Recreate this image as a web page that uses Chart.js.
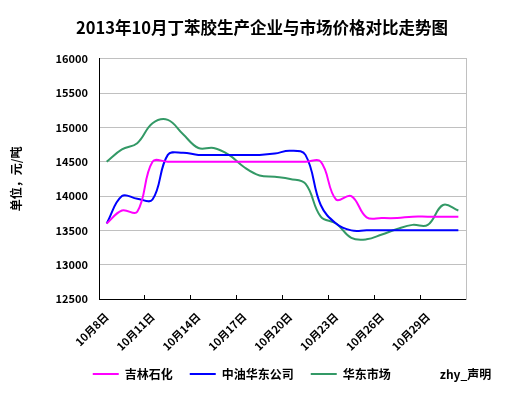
<!DOCTYPE html>
<html>
<head>
<meta charset="utf-8">
<script src="https://cdn.jsdelivr.net/npm/chart.js@4"></script>
<style>
  html, body { margin: 0; padding: 0; background: #fff; }
</style>
</head>
<body>
<canvas id="priceChart" width="524" height="395"></canvas>
<script>
// one point per day, 10月8日 .. 10月31日
const days = ['10月8日', '10月9日', '10月10日', '10月11日', '10月12日', '10月13日',
    '10月14日', '10月15日', '10月16日', '10月17日', '10月18日', '10月19日',
    '10月20日', '10月21日', '10月22日', '10月23日', '10月24日', '10月25日',
    '10月26日', '10月27日', '10月28日', '10月29日', '10月30日', '10月31日'];

const jilin = [13600, 13790, 13770, 14500, 14500, 14500, 14500, 14500, 14500, 14500, 14500, 14500,
    14500, 14500, 14500, 13950, 14000, 13690, 13680, 13680, 13700, 13700, 13700, 13700];

const huadongCo = [13600, 14000, 13960, 13950, 14600, 14630, 14600, 14600, 14600, 14600, 14600, 14620,
    14660, 14600, 13870, 13600, 13500, 13500, 13500, 13500, 13500, 13500, 13500, 13500];

const market = [14500, 14680, 14770, 15060, 15110, 14900, 14700, 14700, 14600, 14420, 14300, 14280,
    14250, 14180, 13700, 13600, 13390, 13370, 13440, 13520, 13580, 13580, 13870, 13790];

const seriesNames = ['吉林石化', '中油华东公司', '华东市场', 'zhy_声明'];
const seriesColors = ['#ff00ff', '#0000ff', '#339966', 'rgba(0,0,0,0)'];

const yTicks = [12500, 13000, 13500, 14000, 14500, 15000, 15500, 16000];

const fontFamily = "SimSun, 'Noto Sans CJK SC', sans-serif";

// the legend in the picture sits right of centre
const legendShift = {
    id: 'legendShift',
    afterLayout(chart) {
        chart.legend.left += 30;
        chart.legend.right += 30;
    }
};

function makeSet(i, values) {
    return {
        label: seriesNames[i],
        data: values,
        borderColor: seriesColors[i],
        backgroundColor: seriesColors[i],
        borderWidth: 2,
        pointRadius: 0,
        tension: 0.4,
        fill: false
    };
}

const ctx = document.getElementById('priceChart').getContext('2d');
const myChart = new Chart(ctx, {
    type: 'line',
    data: {
        labels: days,
        datasets: [
            makeSet(0, jilin),
            makeSet(1, huadongCo),
            makeSet(2, market),
            makeSet(3, days.map(() => null))
        ]
    },
    options: {
        responsive: false,
        animation: false,
        layout: { padding: { left: 0, right: 0, top: 0, bottom: 5 } },
        plugins: {
            title: {
                display: true,
                text: '2013年10月丁苯胶生产企业与市场价格对比走势图',
                color: '#000',
                font: { family: fontFamily, size: 16.5, weight: 'bold' },
                padding: { top: 18, bottom: 21 }
            },
            legend: {
                position: 'bottom',
                labels: {
                    color: '#000',
                    font: { family: fontFamily, size: 12, weight: 'bold' },
                    usePointStyle: true,
                    pointStyle: 'line',
                    pointStyleWidth: 26,
                    padding: 17
                }
            },
            tooltip: { enabled: false }
        },
        scales: {
            x: {
                offset: true,
                border: { display: true, color: '#000', width: 1 },
                grid: {
                    offset: true,
                    drawOnChartArea: false,
                    tickLength: -4,
                    color: (c) => (c.index % 3 === 0 ? '#000' : 'rgba(0,0,0,0)')
                },
                ticks: {
                    autoSkip: false,
                    minRotation: 45,
                    maxRotation: 45,
                    padding: 15,
                    color: '#000',
                    font: { family: fontFamily, size: 11, weight: 'bold' },
                    callback: (v, i) => (i % 3 === 0 ? days[i] : '')
                },
                afterFit: (scale) => { scale.height = 52; }
            },
            y: {
                min: yTicks[0],
                max: yTicks[yTicks.length - 1],
                border: { display: true, color: '#000', width: 1 },
                grid: { color: '#c0c0c0', drawTicks: false },
                afterBuildTicks: (scale) => { scale.ticks = yTicks.map(v => ({ value: v })); },
                ticks: {
                    color: '#000',
                    padding: 11,
                    font: { family: fontFamily, size: 11, weight: 'bold' },
                    callback: (v) => String(v)
                },
                title: {
                    display: true,
                    text: '单位，元/吨',
                    color: '#000',
                    font: { family: fontFamily, size: 12, weight: 'bold' },
                    padding: { top: 9, bottom: 0 }
                },
                afterFit: (scale) => { scale.width = 99; }
            },
            // right edge of the plot frame
            yRight: {
                position: 'right',
                min: yTicks[0],
                max: yTicks[yTicks.length - 1],
                border: { display: true, color: '#c0c0c0', width: 1 },
                grid: { display: false, drawTicks: false },
                ticks: { display: false },
                afterFit: (scale) => { scale.width = 58; }
            }
        }
    },
    plugins: [legendShift]
});
</script>
</body>
</html>
